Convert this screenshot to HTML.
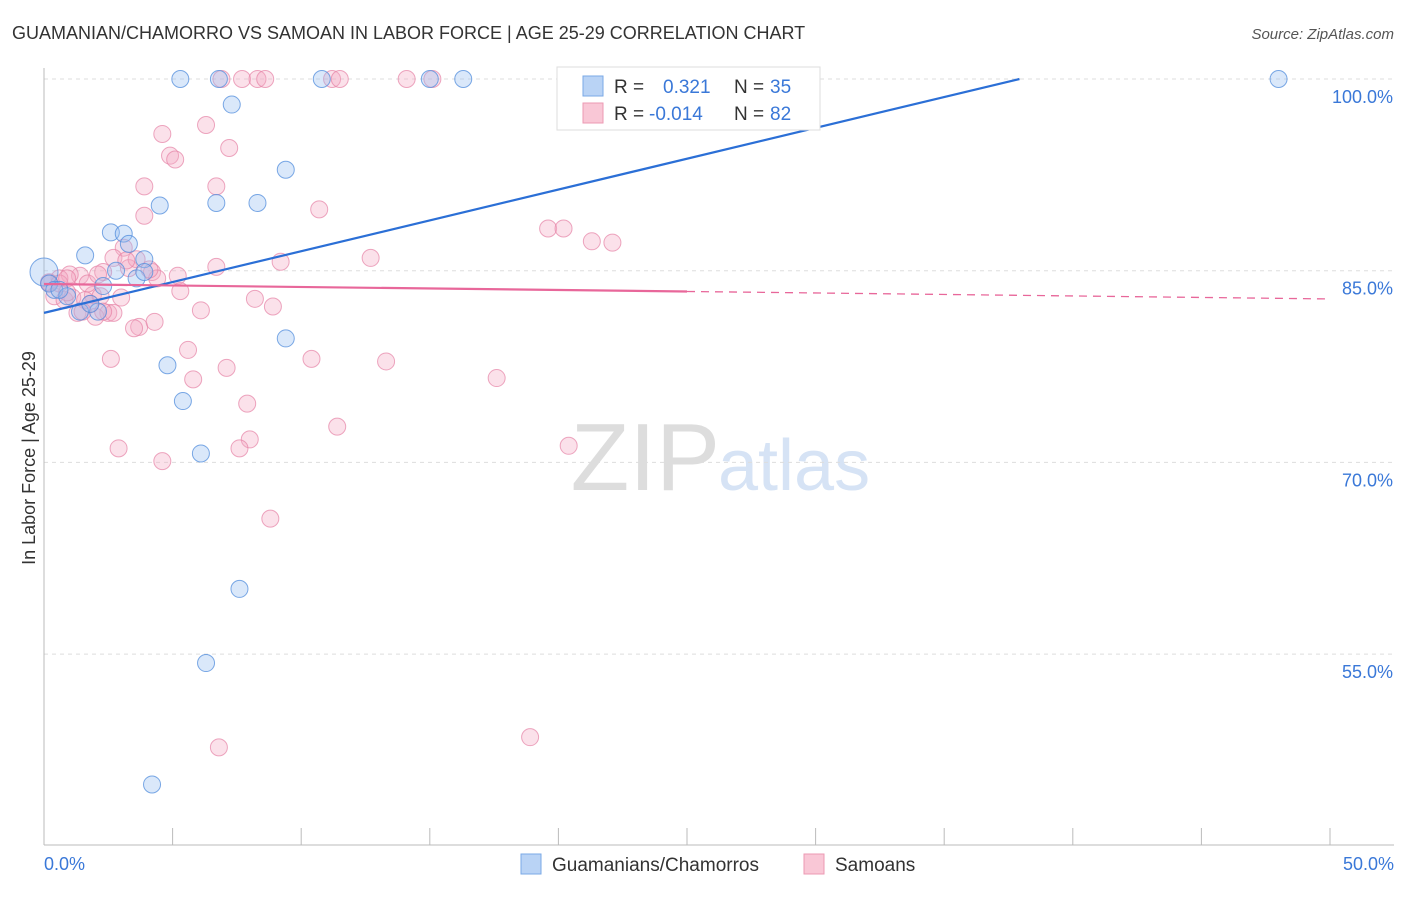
<!DOCTYPE html>
<html><head><meta charset="utf-8"><style>
body{margin:0;background:#fff;font-family:"Liberation Sans",sans-serif;}
svg text{font-family:"Liberation Sans",sans-serif;}
</style></head><body>
<svg id="chart" width="1406" height="892">
<text x="12" y="39" font-size="18" fill="#333">GUAMANIAN/CHAMORRO VS SAMOAN IN LABOR FORCE | AGE 25-29 CORRELATION CHART</text>
<text x="1394" y="39" font-size="15" fill="#555" font-style="italic" text-anchor="end">Source: ZipAtlas.com</text>
<text x="35" y="458" font-size="18" fill="#333" text-anchor="middle" transform="rotate(-90 35 458)">In Labor Force | Age 25-29</text>
<text x="720" y="490" font-size="96" fill="#ddd" text-anchor="end" font-family="Liberation Serif">ZIP</text>
<text x="718" y="490" font-size="72" fill="#d6e3f5">atlas</text>
<g id="grid"></g><g id="axes"></g><g id="pts"></g><g id="lines"></g>
<g>
<rect x="557" y="67" width="263" height="63" fill="#fff" stroke="#ddd"/>
<rect x="583" y="76" width="20" height="20" fill="#b9d3f5" stroke="#7aa8e6"/>
<text x="614" y="93" font-size="19" fill="#333">R =</text><text x="663" y="93" font-size="19" fill="#3a78d8">0.321</text>
<text x="734" y="93" font-size="19" fill="#333">N =</text><text x="770" y="93" font-size="19" fill="#3a78d8">35</text>
<rect x="583" y="103" width="20" height="20" fill="#f9c7d6" stroke="#ec9ab3"/>
<text x="614" y="120" font-size="19" fill="#333">R =</text><text x="649" y="120" font-size="19" fill="#3a78d8">-0.014</text>
<text x="734" y="120" font-size="19" fill="#333">N =</text><text x="770" y="120" font-size="19" fill="#3a78d8">82</text>
</g>
<g>
<rect x="521" y="854" width="20" height="20" fill="#b9d3f5" stroke="#7aa8e6"/>
<text x="552" y="871" font-size="19" fill="#333">Guamanians/Chamorros</text>
<rect x="804" y="854" width="20" height="20" fill="#f9c7d6" stroke="#ec9ab3"/>
<text x="835" y="871" font-size="19" fill="#333">Samoans</text>
</g>
</svg>
<script>
const yTicks=[100,85,70,55];
const xTickLabels=["0.0%","50.0%"];
const blueX=[5.3,6.8,10.8,15.0,16.3,48.0,7.3,9.4,4.5,6.7,8.3,2.6,3.1,1.6,3.3,3.9,2.8,3.6,3.9,0.0,0.2,0.4,0.9,1.4,2.1,2.3,1.8,9.4,4.8,5.4,6.1,7.6,6.3,4.2,0.6];
const blueY=[100,100,100,100,100,100,98.0,92.9,90.1,90.3,90.3,88.0,87.9,86.2,87.1,85.9,85.0,84.4,84.9,84.9,84.0,83.5,83.0,81.8,81.8,83.8,82.4,79.7,77.6,74.8,70.7,60.1,54.3,44.8,83.5];
const pinkX=[6.9,7.7,8.3,8.6,11.2,11.5,14.1,15.1,4.6,6.3,7.2,4.9,5.1,3.9,6.7,3.9,10.7,19.6,20.2,21.3,22.1,3.1,12.7,9.2,6.7,2.7,3.3,3.6,4.2,4.4,5.2,2.3,1.4,1.0,0.6,0.2,0.4,0.8,1.1,1.9,1.6,2.2,3.0,5.3,8.2,8.9,6.1,2.5,2.0,1.3,2.7,3.7,3.5,4.3,5.6,2.6,10.4,13.3,7.1,5.8,17.6,7.9,11.4,8.0,7.6,2.9,4.6,20.4,8.8,6.8,18.9,0.2,0.6,0.9,1.7,2.1,3.2,4.1,1.8,2.3,1.5,0.9];
const pinkY=[100,100,100,100,100,100,100,100,95.7,96.4,94.6,94.0,93.7,91.6,91.6,89.3,89.8,88.3,88.3,87.3,87.2,86.8,86.0,85.7,85.3,86.0,85.2,85.9,84.9,84.4,84.6,84.9,84.6,84.7,84.4,84.1,83.0,82.7,82.9,83.1,82.7,83.0,82.9,83.4,82.8,82.2,81.9,81.7,81.4,81.7,81.7,80.6,80.5,81.0,78.8,78.1,78.1,77.9,77.4,76.5,76.6,74.6,72.8,71.8,71.1,71.1,70.1,71.3,65.6,47.7,48.5,84.0,84.0,84.4,84.0,84.7,85.8,85.1,82.4,81.8,81.8,83.3];
const blueFit=[81.7,0.4825], pinkFit=[83.96,-0.0234];
const X=v=>44+v*25.72, Y=v=>79+(100-v)*12.78;
const ns="http://www.w3.org/2000/svg";
function mk(t,a,p){const e=document.createElementNS(ns,t);for(const k in a)e.setAttribute(k,a[k]);p.appendChild(e);return e;}
const grid=document.getElementById('grid'),axes=document.getElementById('axes'),pts=document.getElementById('pts'),lines=document.getElementById('lines');
yTicks.forEach(t=>{
 const l=mk('line',{x1:44,x2:1394,y1:Y(t),y2:Y(t),stroke:'#ddd','stroke-dasharray':'4,4'},grid);
 
 
 const tx=mk('text',{x:1393,y:Y(t)+24,'font-size':18,fill:'#3a78d8','text-anchor':'end'},axes);tx.textContent=t.toFixed(1)+'%';
 
 
});
mk('line',{x1:44,x2:44,y1:68,y2:845,stroke:'#bbb'},axes);
mk('line',{x1:44,x2:1394,y1:845,y2:845,stroke:'#bbb'},axes);
for(let i=0;i<=10;i++){mk('line',{x1:X(i*5),x2:X(i*5),y1:828,y2:845,stroke:'#bbb'},axes);}
[[0,'start',44],[50,'end',1394]].forEach((d,i)=>{const t=mk('text',{x:d[2],y:870,'font-size':18,fill:'#3a78d8','text-anchor':d[1]},axes);t.textContent=xTickLabels[i];
 
 });
pinkX.forEach((x,i)=>{const c=mk('circle',{cx:X(x),cy:Y(pinkY[i]),r:8.5,fill:'rgba(244,170,195,0.35)',stroke:'rgba(230,130,165,0.7)','stroke-width':1},pts);
 
 });
blueX.forEach((x,i)=>{const c=mk('circle',{cx:X(x),cy:Y(blueY[i]),r:i==19?14:8.5,fill:'rgba(150,190,240,0.35)',stroke:'rgba(80,140,220,0.75)','stroke-width':1},pts);
 
 });
const bx2=(100-blueFit[0])/blueFit[1];
const bl=mk('line',{x1:X(0),y1:Y(blueFit[0]),x2:X(bx2),y2:Y(100),stroke:'#2b6fd6','stroke-width':2.2},lines);


const pl=mk('line',{x1:X(0),y1:Y(pinkFit[0]),x2:X(25),y2:Y(pinkFit[0]+pinkFit[1]*25),stroke:'#e8679a','stroke-width':2.2},lines);


const pd=mk('line',{x1:X(25),y1:Y(pinkFit[0]+pinkFit[1]*25),x2:X(50),y2:Y(pinkFit[0]+pinkFit[1]*50),stroke:'#e8679a','stroke-width':1.3,'stroke-dasharray':'8,6'},lines);


</script>
</body></html>
